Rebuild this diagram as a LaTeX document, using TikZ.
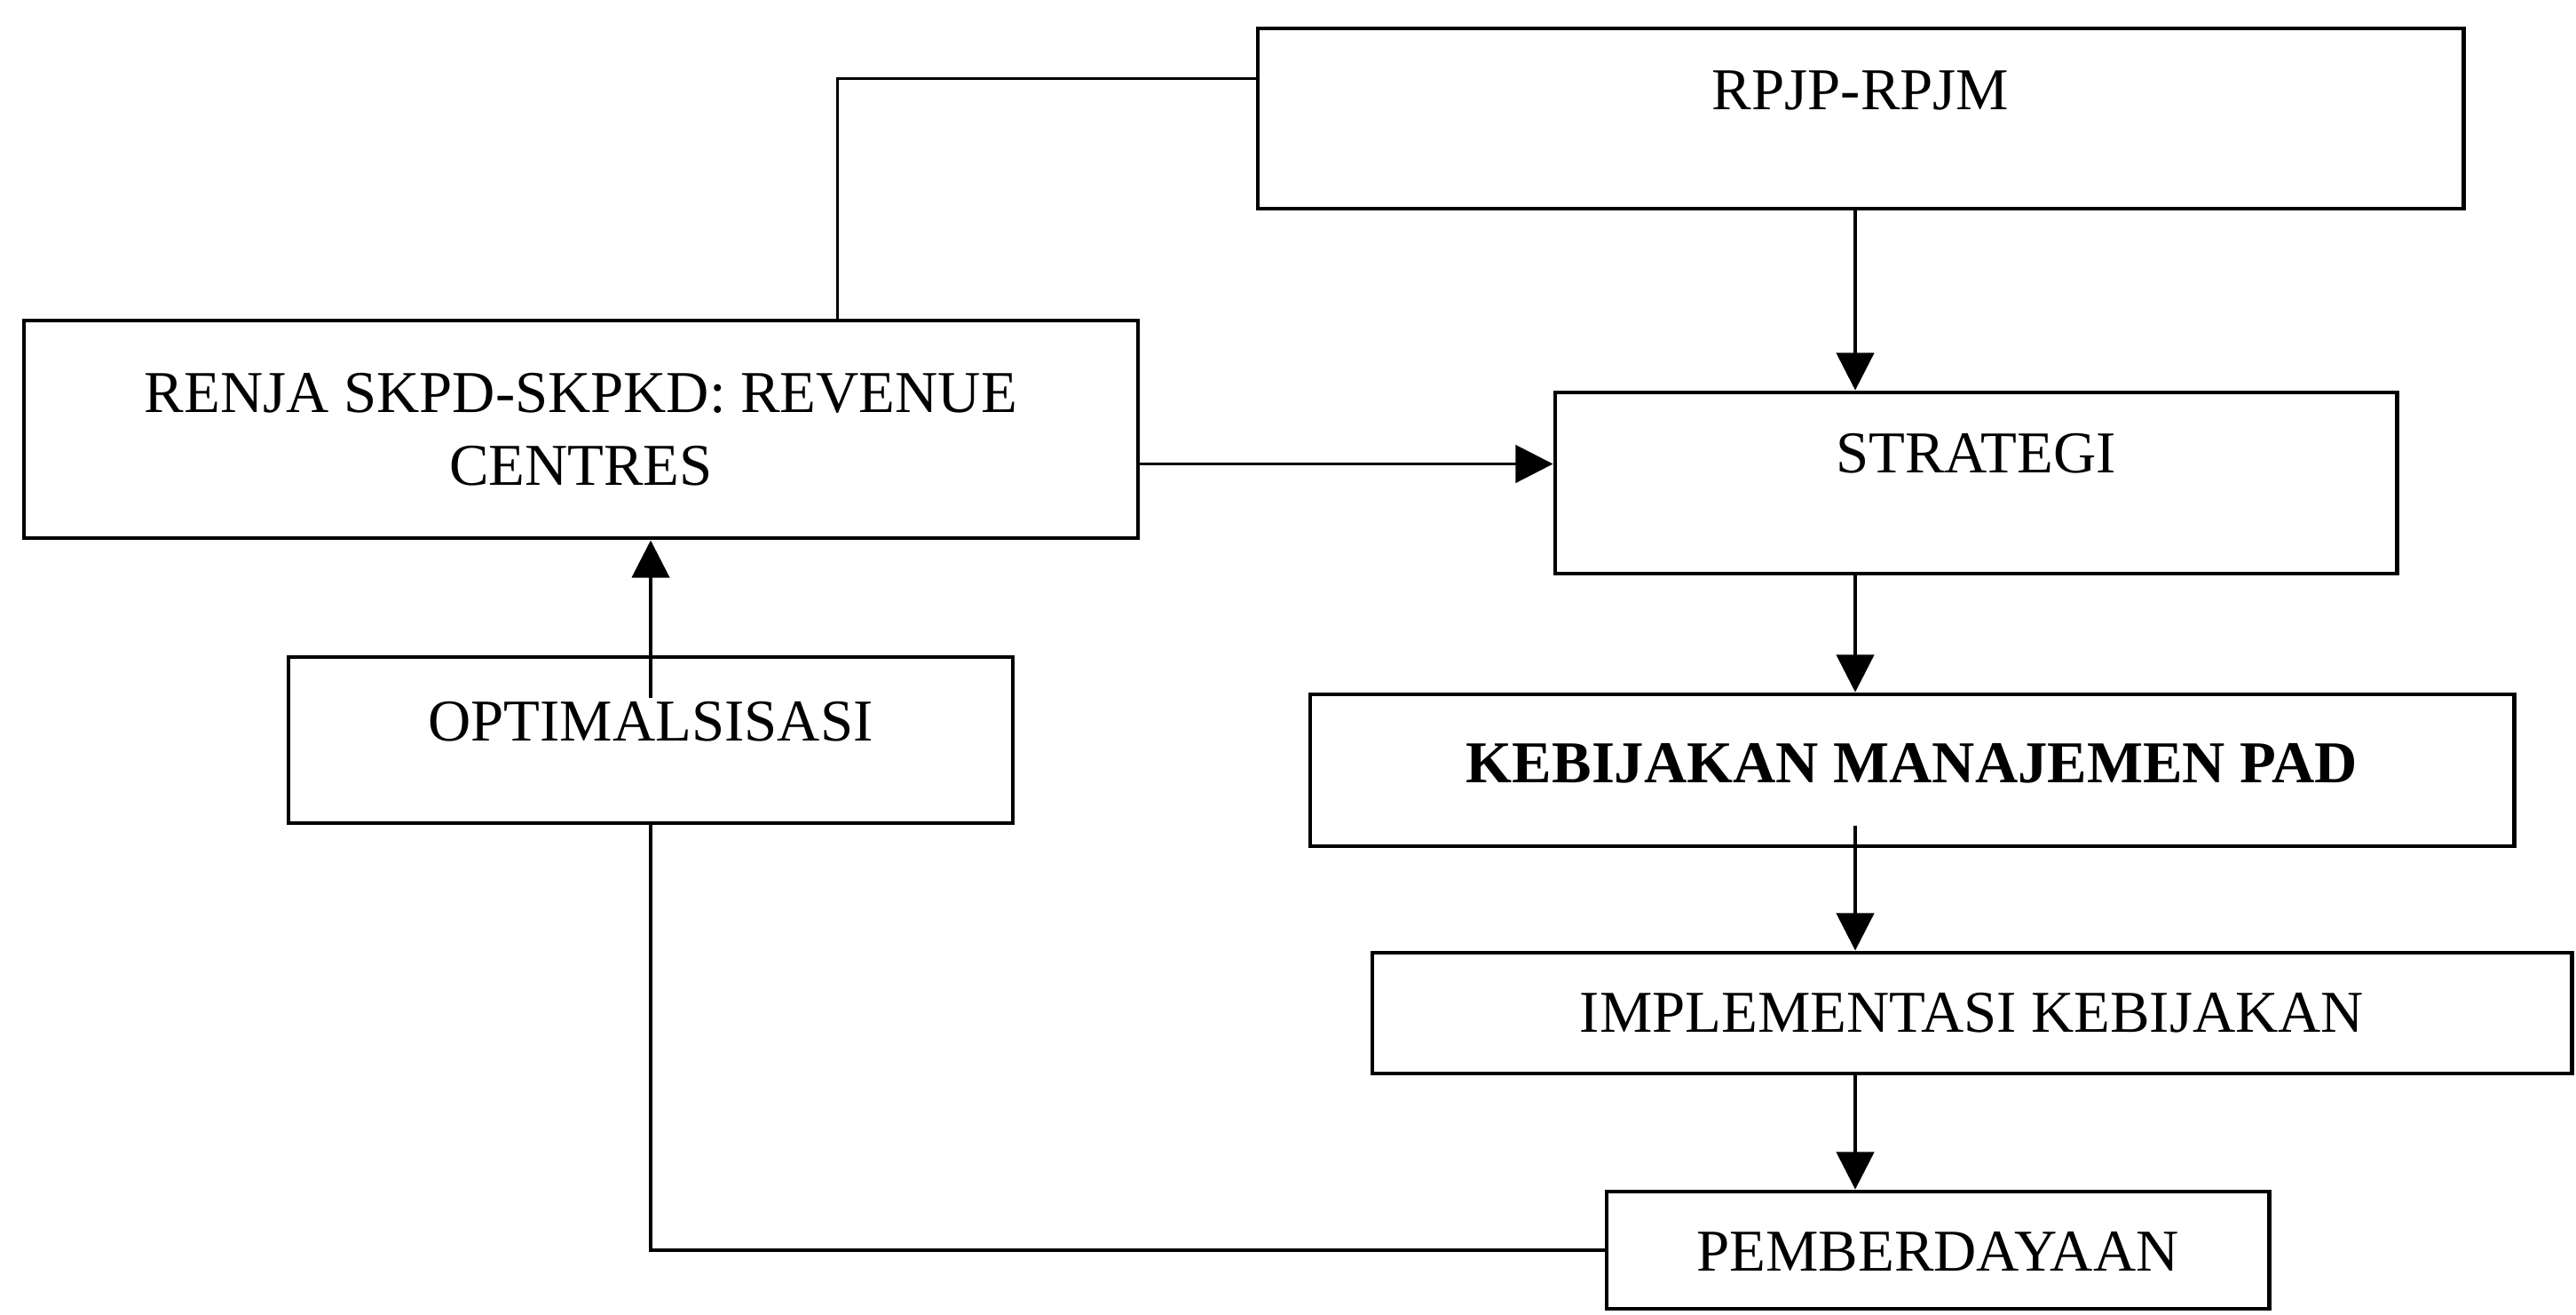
\documentclass[tikz,border=0pt]{standalone}
\usepackage{fontspec}
\setmainfont{Liberation Serif}
\usetikzlibrary{arrows.meta}

\begin{document}
\begin{tikzpicture}[
    box/.style={draw, line width=1.4pt, align=center, font=\fontsize{19}{23.3}\selectfont},
    lift/.style={text height=13.3pt, text depth=#1},
    line/.style={line width=1.1pt},
    arrow/.style={line width=1.1pt, -{Triangle[length=12pt,width=12pt]}}
]
\useasboundingbox (0,0) rectangle (29.02,-14.80);

% Boxes
\node[box, lift=19pt, minimum width=13.58cm, minimum height=2.03cm] (rpjp) at (20.96,-1.335) {RPJP-RPJM};
\node[box, minimum width=12.55cm, minimum height=2.45cm] (renja) at (6.545,-4.835) {RENJA SKPD-SKPKD: REVENUE\\CENTRES};
\node[box, lift=20pt, minimum width=9.48cm, minimum height=2.04cm] (strat) at (22.26,-5.44) {STRATEGI};
\node[box, lift=13pt, minimum width=8.16cm, minimum height=1.87cm] (opt) at (7.33,-8.335) {OPTIMALSISASI};
\node[box, lift=5.5pt, minimum width=13.56cm, minimum height=1.71cm] (keb) at (21.54,-8.675) {\bfseries KEBIJAKAN MANAJEMEN PAD};
\node[box, lift=1pt, minimum width=13.51cm, minimum height=1.36cm] (impl) at (22.215,-11.41) {IMPLEMENTASI KEBIJAKAN};
\node[box, lift=0pt, minimum width=7.46cm, minimum height=1.32cm] (pemb) at (21.83,-14.08) {PEMBERDAYAAN};

% Main column
\coordinate (spine) at (20.9,0);
\coordinate (kb) at (keb.south -| spine);
\draw[arrow] (rpjp.south -| spine) -- (strat.north -| spine);
\draw[arrow] (strat.south -| spine) -- (keb.north -| spine);
\draw[arrow] ([yshift=2.5mm]kb) -- (impl.north -| spine);
\draw[arrow] (impl.south -| spine) -- (pemb.north -| spine);

% Left side links
\coordinate (rs) at ([yshift=-3.9mm]renja.east);
\draw[line] ([yshift=4.5mm]rpjp.west) -| ([xshift=28.9mm]renja.north);
\draw[arrow] (rs) -- (rs -| strat.west);
\draw[arrow] ([yshift=-4.8mm]opt.north) -- (opt.north |- renja.south);
\draw[line] (opt.south) |- (pemb.west);
\end{tikzpicture}
\end{document}
